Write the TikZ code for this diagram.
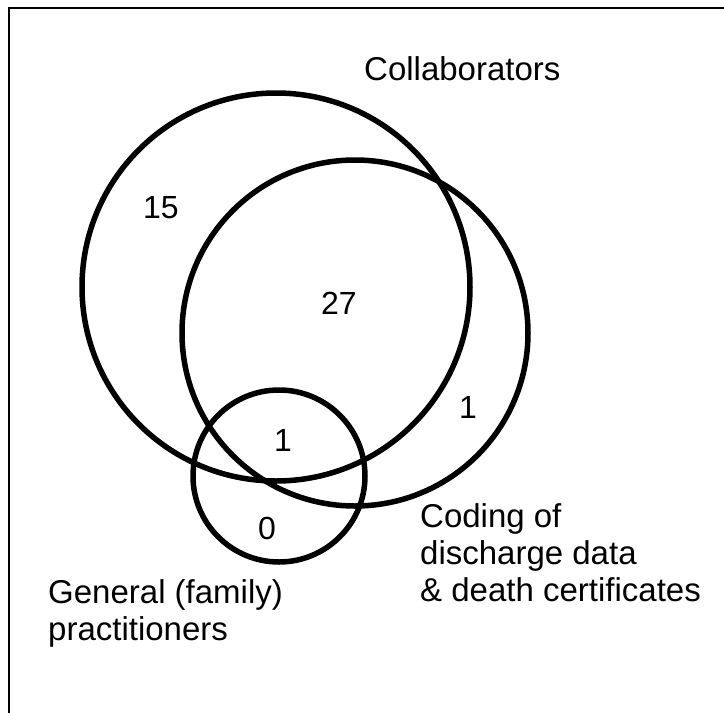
\documentclass[tikz,border=0pt]{standalone}
\usepackage{fontspec}
\setmainfont{Liberation Sans}

\begin{document}
\begin{tikzpicture}[x=1pt,y=-1pt,
  setline/.style={line width=5.5pt},
  count/.style={font=\fontsize{32}{37}\selectfont,inner sep=0pt},
  setname/.style={font=\fontsize{33}{37}\selectfont,inner sep=0pt,align=left}]
\useasboundingbox (0,0) rectangle (724,713);
\clip (0,0) rectangle (724,713);
\draw[line width=1.6pt] (9,8) rectangle (740,730);

% centres of the three sets
\coordinate (Col) at (276,287);
\coordinate (Cod) at (355,333);
\coordinate (Gen) at (279,476);

\draw[setline] (Col) circle (194);
\draw[setline] (Cod) circle (173);
\draw[setline] (Gen) circle (86);

% counts
\node[count] (n15) at (161,208) {15};
\node[count] (n27) at (339,303) {27};
\node[count] (ncod) at (468,407) {1};
\node[count] (nall) at (283,440) {1};
\node[count] (ngen) at (267,528) {0};

% set names
\node[setname,anchor=base west] (lcol) at (364,80) {Collaborators};
\node[setname,anchor=north west] (lcod) at (420,503)
  {Coding of\\discharge data\\\& death certificates};
\node[setname,anchor=north west] (lgen) at (48,579)
  {General (family)\\practitioners};
\end{tikzpicture}
\end{document}
